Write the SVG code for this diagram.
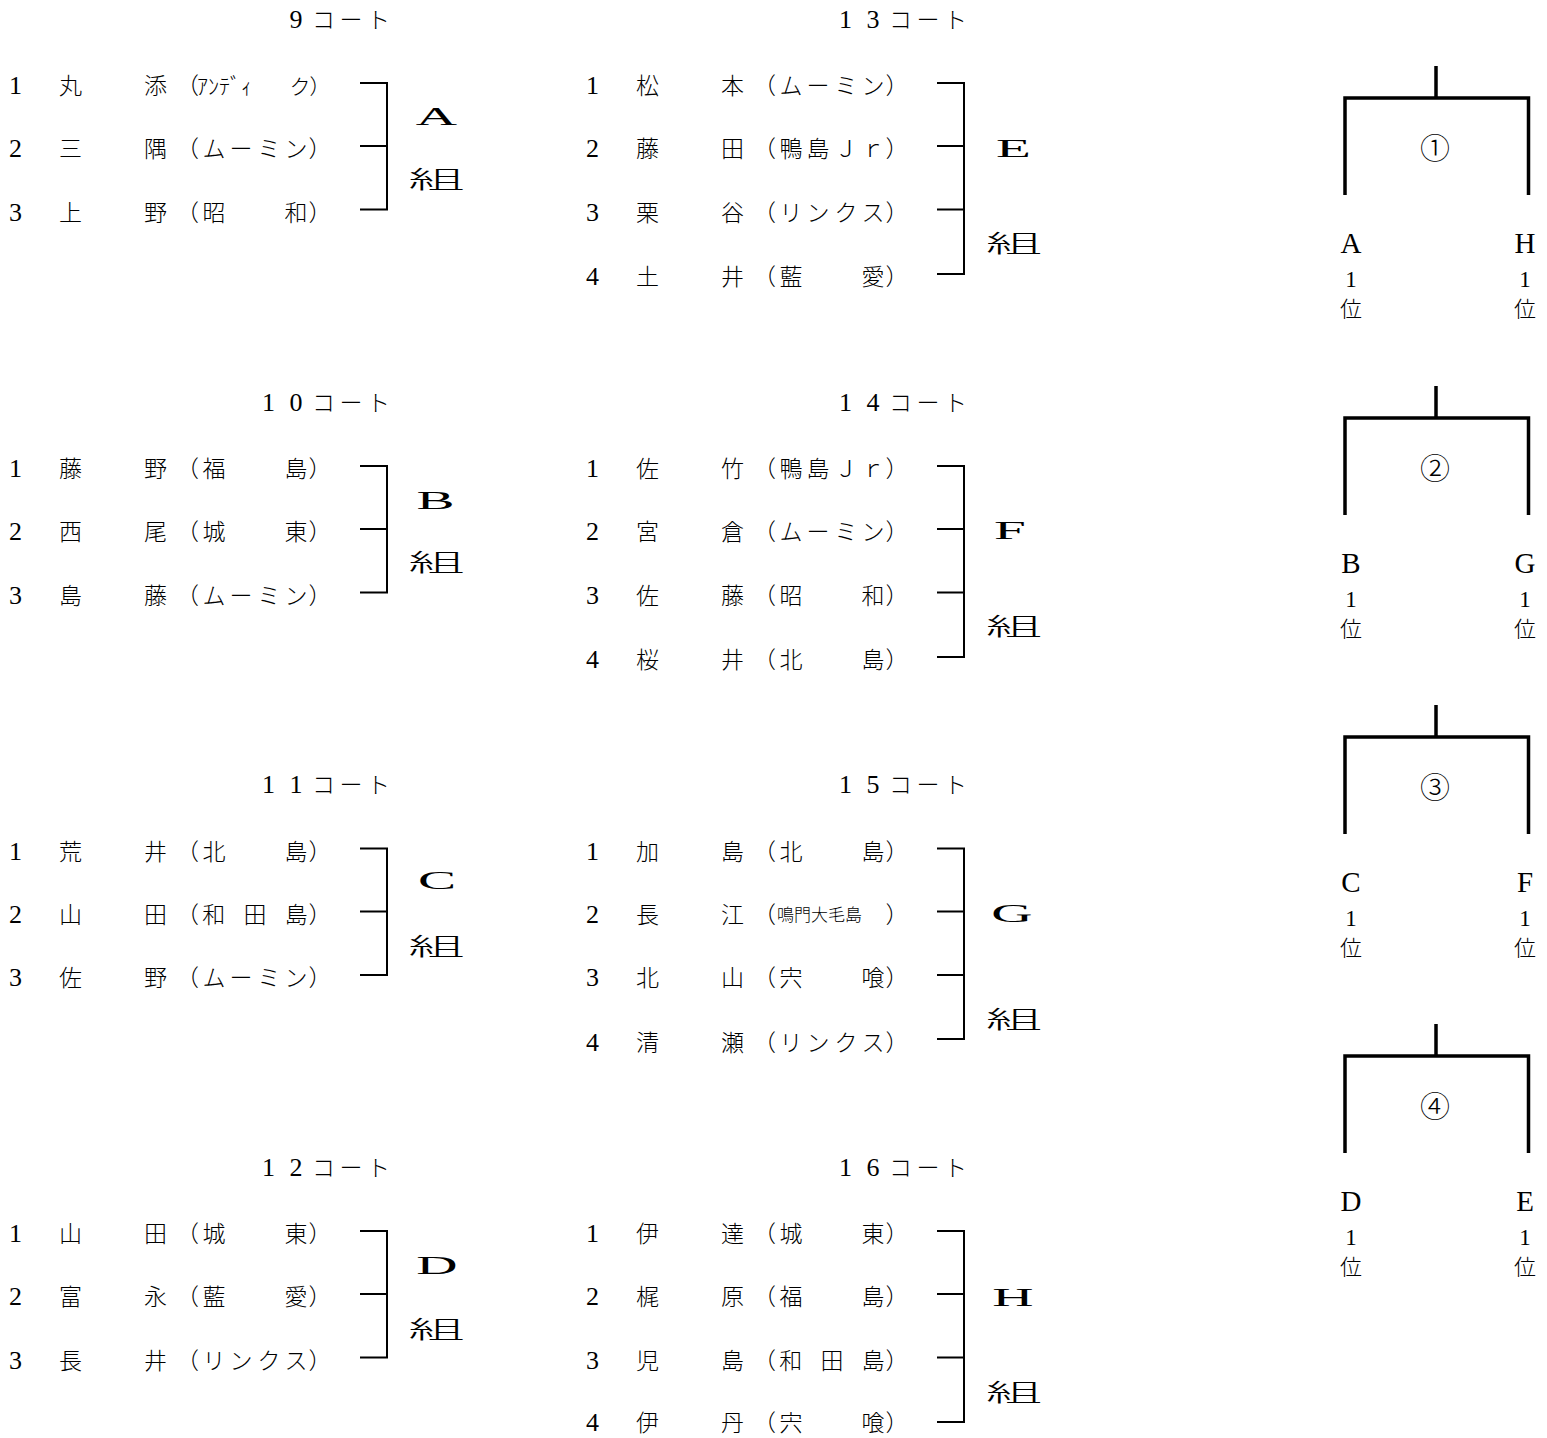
<svg xmlns="http://www.w3.org/2000/svg" width="1547" height="1438" viewBox="0 0 1547 1438">
<style>
.k{font-family:"Noto Sans CJK JP",sans-serif;font-size:23px;font-weight:300;text-anchor:middle;fill:#000}
.s{font-family:"Noto Sans CJK JP",sans-serif;font-size:17px;font-weight:300;text-anchor:middle;fill:#000}
.h{font-family:"Noto Sans CJK JP",sans-serif;font-size:22px;font-weight:300;fill:#000}
.d{font-family:"Liberation Serif",serif;font-size:26px;text-anchor:middle;fill:#000}
.lb{font-family:"Liberation Serif",serif;font-size:26px;text-anchor:middle;fill:#000}
.lk{font-family:"Noto Sans CJK JP",sans-serif;font-size:24px;font-weight:300;text-anchor:middle;fill:#000}
.c{font-family:"Noto Sans CJK JP",sans-serif;font-size:30px;font-weight:300;text-anchor:middle;fill:#000}
.tl{font-family:"Liberation Serif",serif;font-size:29px;text-anchor:middle;fill:#000}
.tn{font-family:"Liberation Serif",serif;font-size:23px;text-anchor:middle;fill:#000}
.tk{font-family:"Noto Sans CJK JP",sans-serif;font-size:22px;font-weight:300;text-anchor:middle;fill:#000}
.br{fill:none;stroke:#000;stroke-width:2}
.tb{fill:none;stroke:#000;stroke-width:3.5}
</style>

<!-- Headers -->
<g id="headers">
<text class="d" x="296" y="28">9</text><text class="k" x="323.5 351 378.5" y="28">コート</text>
<text class="d" x="268.5 296" y="411">10</text><text class="k" x="323.5 351 378.5" y="411">コート</text>
<text class="d" x="268.5 296" y="793">11</text><text class="k" x="323.5 351 378.5" y="793">コート</text>
<text class="d" x="268.5 296" y="1176">12</text><text class="k" x="323.5 351 378.5" y="1176">コート</text>
<text class="d" x="845.5 873" y="28">13</text><text class="k" x="900.5 928 955.5" y="28">コート</text>
<text class="d" x="845.5 873" y="411">14</text><text class="k" x="900.5 928 955.5" y="411">コート</text>
<text class="d" x="845.5 873" y="793">15</text><text class="k" x="900.5 928 955.5" y="793">コート</text>
<text class="d" x="845.5 873" y="1176">16</text><text class="k" x="900.5 928 955.5" y="1176">コート</text>
</g>

<!-- Group A -->
<g id="groupA">
<text class="d" x="15.5" y="94">1</text>
<text class="k" x="70.5 155.5 187.5" y="94">丸添（</text>
<text class="h" x="197" y="94">ｱﾝﾃﾞｨ</text>
<text class="k" x="300 320" y="94" style="font-size:21px">ク）</text>
<text class="d" x="15.5" y="157">2</text>
<text class="k" x="70.5 155.5 187.5 214 241 269 296 320" y="157">三隅（ムーミン）</text>
<text class="d" x="15.5" y="220.5">3</text>
<text class="k" x="70.5 155.5 187.5 214 241 269 296 320" y="220.5">上野（昭　　和）</text>
<text class="lb" transform="translate(436.5,125) scale(2.2,1)">A</text>
<text class="lk" transform="translate(436.5,188) scale(2.35,1)">組</text>
</g>

<!-- Group B -->
<g id="groupB">
<text class="d" x="15.5" y="477">1</text>
<text class="k" x="70.5 155.5 187.5 214 241 269 296 320" y="477">藤野（福　　島）</text>
<text class="d" x="15.5" y="540">2</text>
<text class="k" x="70.5 155.5 187.5 214 241 269 296 320" y="540">西尾（城　　東）</text>
<text class="d" x="15.5" y="603.5">3</text>
<text class="k" x="70.5 155.5 187.5 214 241 269 296 320" y="603.5">島藤（ムーミン）</text>
<text class="lb" transform="translate(435.5,508.6) scale(2.2,1)">B</text>
<text class="lk" transform="translate(436.5,571) scale(2.35,1)">組</text>
</g>

<!-- Group C -->
<g id="groupC">
<text class="d" x="15.5" y="859.5">1</text>
<text class="k" x="70.5 155.5 187.5 214 241 269 296 320" y="859.5">荒井（北　　島）</text>
<text class="d" x="15.5" y="922.5">2</text>
<text class="k" x="70.5 155.5 187.5 213.75 255 296.25 320" y="922.5">山田（和田島）</text>
<text class="d" x="15.5" y="986">3</text>
<text class="k" x="70.5 155.5 187.5 214 241 269 296 320" y="986">佐野（ムーミン）</text>
<text class="lb" transform="translate(437,888.6) scale(2.2,1)">C</text>
<text class="lk" transform="translate(436.5,955) scale(2.35,1)">組</text>
</g>

<!-- Group D -->
<g id="groupD">
<text class="d" x="15.5" y="1242">1</text>
<text class="k" x="70.5 155.5 187.5 214 241 269 296 320" y="1242">山田（城　　東）</text>
<text class="d" x="15.5" y="1305">2</text>
<text class="k" x="70.5 155.5 187.5 214 241 269 296 320" y="1305">富永（藍　　愛）</text>
<text class="d" x="15.5" y="1368.5">3</text>
<text class="k" x="70.5 155.5 187.5 214 241 269 296 320" y="1368.5">長井（リンクス）</text>
<text class="lb" transform="translate(437,1273.6) scale(2.2,1)">D</text>
<text class="lk" transform="translate(436.5,1338) scale(2.35,1)">組</text>
</g>

<!-- Group E -->
<g id="groupE">
<text class="d" x="592.5" y="94">1</text>
<text class="k" x="647.5 732.5 764.5 791 818 846 873 897" y="94">松本（ムーミン）</text>
<text class="d" x="592.5" y="157">2</text>
<text class="k" x="647.5 732.5 764.5 791 818 846 873 897" y="157">藤田（鴨島Ｊｒ）</text>
<text class="d" x="592.5" y="220.5">3</text>
<text class="k" x="647.5 732.5 764.5 791 818 846 873 897" y="220.5">栗谷（リンクス）</text>
<text class="d" x="592.5" y="285">4</text>
<text class="k" x="647.5 732.5 764.5 791 818 846 873 897" y="285">土井（藍　　愛）</text>
<text class="lb" transform="translate(1013.5,157) scale(2.2,1)">E</text>
<text class="lk" transform="translate(1014,251.5) scale(2.35,1)">組</text>
</g>

<!-- Group F -->
<g id="groupF">
<text class="d" x="592.5" y="477">1</text>
<text class="k" x="647.5 732.5 764.5 791 818 846 873 897" y="477">佐竹（鴨島Ｊｒ）</text>
<text class="d" x="592.5" y="540">2</text>
<text class="k" x="647.5 732.5 764.5 791 818 846 873 897" y="540">宮倉（ムーミン）</text>
<text class="d" x="592.5" y="603.5">3</text>
<text class="k" x="647.5 732.5 764.5 791 818 846 873 897" y="603.5">佐藤（昭　　和）</text>
<text class="d" x="592.5" y="668">4</text>
<text class="k" x="647.5 732.5 764.5 791 818 846 873 897" y="668">桜井（北　　島）</text>
<text class="lb" transform="translate(1010,538.6) scale(2.2,1)">F</text>
<text class="lk" transform="translate(1014,635) scale(2.35,1)">組</text>
</g>

<!-- Group G -->
<g id="groupG">
<text class="d" x="592.5" y="859.5">1</text>
<text class="k" x="647.5 732.5 764.5 791 818 846 873 897" y="859.5">加島（北　　島）</text>
<text class="d" x="592.5" y="922.5">2</text>
<text class="k" x="647.5 732.5 764.5" y="922.5">長江（</text>
<text class="s" x="785.5 802.5 819.5 836.5 853.5" y="920.5">鳴門大毛島</text>
<text class="k" x="897" y="922.5">）</text>
<text class="d" x="592.5" y="986">3</text>
<text class="k" x="647.5 732.5 764.5 791 818 846 873 897" y="986">北山（宍　　喰）</text>
<text class="d" x="592.5" y="1050.5">4</text>
<text class="k" x="647.5 732.5 764.5 791 818 846 873 897" y="1050.5">清瀬（リンクス）</text>
<text class="lb" transform="translate(1012,921.6) scale(2.2,1)">G</text>
<text class="lk" transform="translate(1014,1028) scale(2.35,1)">組</text>
</g>

<!-- Group H -->
<g id="groupH">
<text class="d" x="592.5" y="1242">1</text>
<text class="k" x="647.5 732.5 764.5 791 818 846 873 897" y="1242">伊達（城　　東）</text>
<text class="d" x="592.5" y="1305">2</text>
<text class="k" x="647.5 732.5 764.5 791 818 846 873 897" y="1305">梶原（福　　島）</text>
<text class="d" x="592.5" y="1368.5">3</text>
<text class="k" x="647.5 732.5 764.5 790.75 832 873.25 897" y="1368.5">児島（和田島）</text>
<text class="d" x="592.5" y="1431">4</text>
<text class="k" x="647.5 732.5 764.5 791 818 846 873 897" y="1431">伊丹（宍　　喰）</text>
<text class="lb" transform="translate(1013,1305.6) scale(2.2,1)">H</text>
<text class="lk" transform="translate(1014,1401) scale(2.35,1)">組</text>
</g>

<!-- Tournament matches -->
<g id="match1">
<text class="c" x="1435" y="159">①</text>
<text class="tl" x="1351" y="252.5">A</text><text class="tn" x="1351" y="287">1</text><text class="tk" x="1351" y="317">位</text>
<text class="tl" x="1525" y="252.5">H</text><text class="tn" x="1525" y="287">1</text><text class="tk" x="1525" y="317">位</text>
</g>
<g id="match2">
<text class="c" x="1435" y="479">②</text>
<text class="tl" x="1351" y="572.5">B</text><text class="tn" x="1351" y="607">1</text><text class="tk" x="1351" y="637">位</text>
<text class="tl" x="1525" y="572.5">G</text><text class="tn" x="1525" y="607">1</text><text class="tk" x="1525" y="637">位</text>
</g>
<g id="match3">
<text class="c" x="1435" y="798">③</text>
<text class="tl" x="1351" y="891.5">C</text><text class="tn" x="1351" y="926">1</text><text class="tk" x="1351" y="956">位</text>
<text class="tl" x="1525" y="891.5">F</text><text class="tn" x="1525" y="926">1</text><text class="tk" x="1525" y="956">位</text>
</g>
<g id="match4">
<text class="c" x="1435" y="1117">④</text>
<text class="tl" x="1351" y="1210.5">D</text><text class="tn" x="1351" y="1245">1</text><text class="tk" x="1351" y="1275">位</text>
<text class="tl" x="1525" y="1210.5">E</text><text class="tn" x="1525" y="1245">1</text><text class="tk" x="1525" y="1275">位</text>
</g>

<!-- Connectors -->
<g id="connectors">
<path class="br" d="M360 83H387V209.5H360M360 146H387"/>
<path class="br" d="M360 466H387V592.5H360M360 529H387"/>
<path class="br" d="M360 848.5H387V975H360M360 911.5H387"/>
<path class="br" d="M360 1231H387V1357.5H360M360 1294H387"/>
<path class="br" d="M937 83H964V274H937M937 146H964M937 209.5H964"/>
<path class="br" d="M937 466H964V657H937M937 529H964M937 592.5H964"/>
<path class="br" d="M937 848.5H964V1039H937M937 911.5H964M937 975H964"/>
<path class="br" d="M937 1231H964V1422H937M937 1294H964M937 1357.5H964"/>
<path class="tb" d="M1345 195V98H1528.5V195M1436 66V98"/>
<path class="tb" d="M1345 515V418H1528.5V515M1436 386V418"/>
<path class="tb" d="M1345 834V737H1528.5V834M1436 705V737"/>
<path class="tb" d="M1345 1153V1056H1528.5V1153M1436 1024V1056"/>
</g>
</svg>
